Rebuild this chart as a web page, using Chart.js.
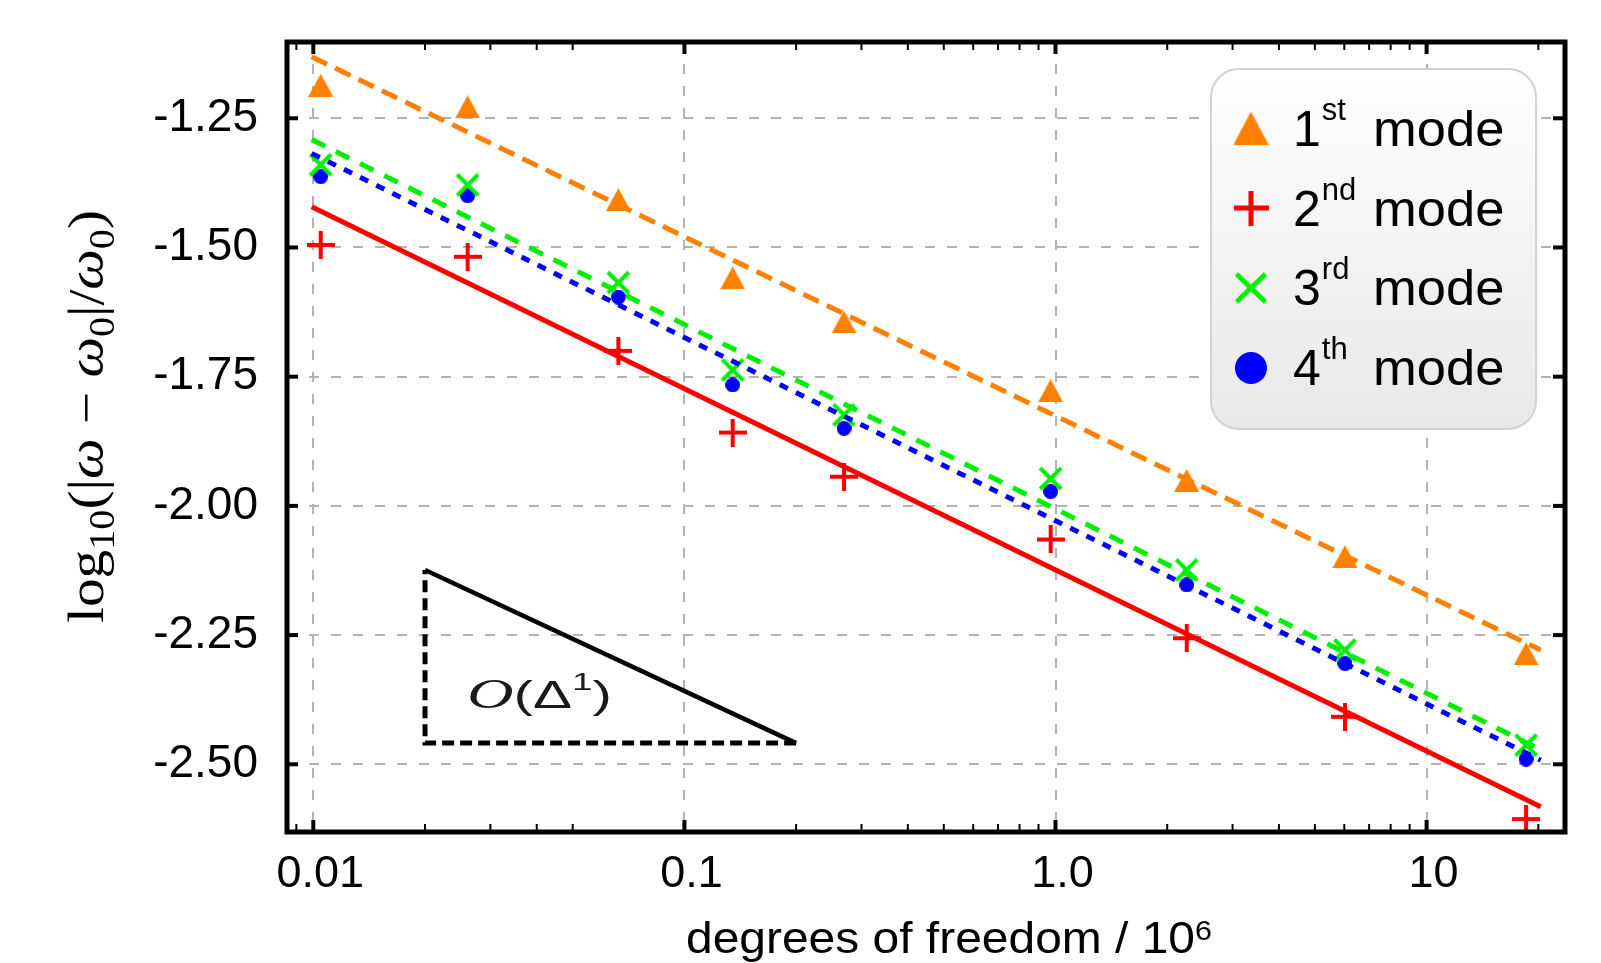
<!DOCTYPE html>
<html><head><meta charset="utf-8">
<script src="https://cdn.jsdelivr.net/npm/chart.js@4.4.1/dist/chart.umd.min.js"></script>
<style>html,body{margin:0;padding:0;background:#fff;overflow:hidden}canvas{display:block}</style>
</head><body>
<canvas id="c" width="1601" height="963" style="width:1601px;height:963px"></canvas>
<script>
// ---- data ----
const dof   = [0.01047, 0.02606, 0.06637, 0.1349, 0.2692, 0.9705, 2.257, 6.026, 18.54];
const mode1 = [-1.186, -1.228, -1.4075, -1.559, -1.644, -1.777, -1.9505, -2.098, -2.286];
const mode2 = [-1.495, -1.518, -1.700, -1.858, -1.9435, -2.065, -2.256, -2.408, -2.606];
const mode3 = [-1.340, -1.379, -1.568, -1.737, -1.824, -1.947, -2.124, -2.279, -2.463];
const mode4 = [-1.363, -1.400, -1.596, -1.766, -1.850, -1.9725, -2.153, -2.305, -2.490];
const fitX  = [0.0099, 20.3];
const fit1  = [-1.131, -2.279];
const fit2  = [-1.421, -2.582];
const fit3  = [-1.291, -2.472];
const fit4  = [-1.318, -2.492];
const triX  = [0.02, 0.2];
const triY  = [-2.124, -2.459];
const xTickValues = [0.01, 0.1, 1, 10];
const xTickLabels = ['0.01', '0.1', '1.0', '10'];
const yTickValues = [-2.5, -2.25, -2.0, -1.75, -1.5, -1.25];
const yTickLabels = ['-2.50', '-2.25', '-2.00', '-1.75', '-1.50', '-1.25'];
const modeNums = ['1', '2', '3', '4'];
const modeSups = ['st', 'nd', 'rd', 'th'];
const modeWord = 'mode';
const xMin = 0.008494, xMax = 23.6, yMin = -2.631, yMax = -1.1024;

const ORANGE = '#ff8000', RED = '#ff0000', GREEN = '#00ee00', BLUE = '#0000ff';

function mk(type, w, h, color, lw) {
  const c = document.createElement('canvas');
  c.width = w; c.height = h;
  const g = c.getContext('2d');
  g.fillStyle = color; g.strokeStyle = color; g.lineWidth = lw || 1;
  g.beginPath();
  if (type === 'tri') { g.moveTo(w / 2, 0); g.lineTo(w, h); g.lineTo(0, h); g.closePath(); g.fill(); }
  else if (type === 'plus') { g.moveTo(0, h / 2); g.lineTo(w, h / 2); g.moveTo(w / 2, 0); g.lineTo(w / 2, h); g.stroke(); }
  else if (type === 'x') { const p = lw / 2; g.moveTo(p, p); g.lineTo(w - p, h - p); g.moveTo(w - p, p); g.lineTo(p, h - p); g.stroke(); }
  else { g.arc(w / 2, h / 2, w / 2, 0, Math.PI * 2); g.fill(); }
  return c;
}
const markers = [mk('tri', 25, 23, ORANGE), mk('plus', 28, 28, RED, 4), mk('x', 25, 25, GREEN, 4), mk('dot', 15, 15, BLUE)];
const legendMarkers = [mk('tri', 35, 33, ORANGE), mk('plus', 35, 35, RED, 5), mk('x', 34, 33, GREEN, 5), mk('dot', 32, 32, BLUE)];

const pts = (xs, ys) => xs.map((x, i) => ({x, y: ys[i]}));
const lineDs = (ys, color, dash) => ({data: pts(fitX, ys), showLine: true, pointRadius: 0, borderColor: color, borderWidth: 5, borderDash: dash, fill: false, tension: 0});
const markDs = (ys, img) => ({data: pts(dof, ys), showLine: false, pointStyle: img, pointRadius: 10, pointHoverRadius: 10, borderWidth: 0, backgroundColor: 'rgba(0,0,0,0)', borderColor: 'rgba(0,0,0,0)'});

const datasets = [
  lineDs(fit1, ORANGE, [17, 9]),
  lineDs(fit2, RED, []),
  lineDs(fit3, GREEN, [15, 12]),
  lineDs(fit4, BLUE, [9, 9]),
  markDs(mode1, markers[0]),
  markDs(mode2, markers[1]),
  markDs(mode3, markers[2]),
  markDs(mode4, markers[3]),
  {data: [{x: triX[1], y: triY[1]}, {x: triX[0], y: triY[1]}, {x: triX[0], y: triY[0]}], showLine: true, pointRadius: 0, borderColor: '#000', borderWidth: 5, borderDash: [12, 6], borderJoinStyle: 'miter'},
  {data: [{x: triX[0], y: triY[0]}, {x: triX[1], y: triY[1]}], showLine: true, pointRadius: 0, borderColor: '#000', borderWidth: 4.5}
];

function drawParts(ctx, parts, x0, y0, targetW, rot) {
  let total = 0;
  parts.forEach(p => { ctx.font = p.f; p.w = ctx.measureText(p.t).width; total += p.w; });
  const s = targetW ? targetW / total : 1;
  ctx.save();
  ctx.translate(x0, y0);
  if (rot) ctx.rotate(rot);
  ctx.scale(s, 1);
  let cx = 0;
  parts.forEach(p => { ctx.font = p.f; ctx.fillText(p.t, cx, p.dy || 0); cx += p.w; });
  ctx.restore();
}

const decor = {
  id: 'decor',
  afterDraw(chart) {
    const {ctx, chartArea: a, scales: {x, y}} = chart;
    ctx.save();
    ctx.strokeStyle = '#000';
    const ln = (x1, y1, x2, y2) => { ctx.beginPath(); ctx.moveTo(x1, y1); ctx.lineTo(x2, y2); ctx.stroke(); };
    ctx.lineWidth = 4;
    yTickValues.forEach(v => { const py = y.getPixelForValue(v); ln(a.left, py, a.left + 11, py); ln(a.right - 12, py, a.right, py); });
    xTickValues.forEach(v => { const px = x.getPixelForValue(v); ln(px, a.bottom, px, a.bottom - 12); ln(px, a.top, px, a.top + 12); });
    ctx.lineWidth = 2;
    [0.001, 0.01, 0.1, 1, 10].forEach(d => {
      for (let m = 2; m <= 9; m++) {
        if (d === 0.01 && m > 5) continue;
        const v = m * d;
        if (v <= xMin || v >= xMax) continue;
        const px = x.getPixelForValue(v);
        ln(px, a.bottom, px, a.bottom - 8); ln(px, a.top, px, a.top + 8);
      }
    });
    ctx.lineWidth = 5;
    ctx.strokeRect(a.left, a.top, a.right - a.left, a.bottom - a.top);

    // legend
    const bx = a.right - 354, by = a.top + 27, bw = 325, bh = 360, r = 28;
    ctx.beginPath();
    ctx.moveTo(bx + r, by); ctx.arcTo(bx + bw, by, bx + bw, by + bh, r); ctx.arcTo(bx + bw, by + bh, bx, by + bh, r);
    ctx.arcTo(bx, by + bh, bx, by, r); ctx.arcTo(bx, by, bx + bw, by, r); ctx.closePath();
    const gr = ctx.createLinearGradient(0, by, 0, by + bh);
    gr.addColorStop(0, '#ffffff'); gr.addColorStop(1, '#e8e8e8');
    ctx.fillStyle = gr; ctx.fill();
    ctx.strokeStyle = '#d2d2d2'; ctx.lineWidth = 2; ctx.stroke();
    ctx.fillStyle = '#000';
    ctx.textBaseline = 'alphabetic';
    for (let i = 0; i < 4; i++) {
      const my = by + 59 + i * 80, base = by + 77 + i * 79.5;
      const im = legendMarkers[i];
      ctx.drawImage(im, bx + 40 - im.width / 2, my - im.height / 2);
      ctx.font = '50px "Liberation Sans"';
      ctx.fillText(modeNums[i], bx + 82, base);
      const nw = ctx.measureText(modeNums[i]).width;
      ctx.font = '31px "Liberation Sans"';
      ctx.fillText(modeSups[i], bx + 82 + nw + 1, base - 26);
      ctx.save(); ctx.translate(bx + 162, base); ctx.scale(1.05, 1);
      ctx.font = '50px "Liberation Sans"'; ctx.fillText(modeWord, 0, 0); ctx.restore();
    }

    // annotation text
    ctx.fillStyle = '#1a1a1a';
    drawParts(ctx, [
      {t: 'O', f: 'italic 42px "Liberation Serif"'},
      {t: '(', f: '38px "Liberation Sans"'},
      {t: 'Δ', f: '38px "Liberation Sans"'},
      {t: '1', f: '24px "Liberation Sans"', dy: -18},
      {t: ')', f: '38px "Liberation Sans"'}
    ], x.getPixelForValue(triX[0]) + 42, y.getPixelForValue(triY[1]) - 35, 145, 0);

    // axis titles
    ctx.fillStyle = '#000';
    drawParts(ctx, [
      {t: 'degrees of freedom / 10', f: '44px "Liberation Sans"'},
      {t: '6', f: '28px "Liberation Sans"', dy: -13}
    ], a.left + 399, 953, 526, 0);
    const sf = '50px "Liberation Serif"', si = 'italic 50px "Liberation Serif"', ss = '35px "Liberation Serif"';
    drawParts(ctx, [
      {t: 'log', f: sf}, {t: '10', f: ss, dy: 11}, {t: '(|', f: sf}, {t: 'ω', f: si},
      {t: ' − ', f: sf}, {t: 'ω', f: si}, {t: '0', f: ss, dy: 11}, {t: '|/', f: sf},
      {t: 'ω', f: si}, {t: '0', f: ss, dy: 11}, {t: ')', f: sf}
    ], 103, 623, 413, -Math.PI / 2);
    ctx.restore();
  }
};

Chart.defaults.font.family = '"Liberation Sans", Arial, sans-serif';
Chart.defaults.color = '#000';

new Chart(document.getElementById('c'), {
  type: 'scatter',
  data: {datasets},
  options: {
    responsive: false, animation: false, events: [], devicePixelRatio: 1,
    layout: {padding: {top: 42, right: 36, left: 0, bottom: 0}, autoPadding: false},
    plugins: {legend: {display: false}, tooltip: {enabled: false}},
    scales: {
      x: {
        type: 'logarithmic', min: xMin, max: xMax, bounds: 'data',
        afterBuildTicks: s => { s.ticks = xTickValues.map(v => ({value: v})); },
        afterFit: s => { s.height = 131; s.paddingLeft = 0; s.paddingRight = 0; s.paddingTop = 0; s.paddingBottom = 0; },
        ticks: {autoSkip: false, maxRotation: 0, padding: 16, labelOffset: 7, font: {size: 45},
          callback: v => xTickLabels[xTickValues.indexOf(v)]},
        grid: {color: '#b3b3b3', lineWidth: 2, drawTicks: false},
        border: {display: false, dash: [10, 12]}
      },
      y: {
        type: 'linear', min: yMin, max: yMax, bounds: 'data',
        afterBuildTicks: s => { s.ticks = yTickValues.map(v => ({value: v})); },
        afterFit: s => { s.width = 287; s.paddingTop = 0; s.paddingBottom = 0; s.paddingLeft = 0; s.paddingRight = 0; },
        ticks: {padding: 29, font: {size: 46},
          callback: v => yTickLabels[yTickValues.indexOf(v)]},
        grid: {color: '#b3b3b3', lineWidth: 2, drawTicks: false},
        border: {display: false, dash: [10, 12]}
      }
    }
  },
  plugins: [decor]
});
</script>
</body></html>
